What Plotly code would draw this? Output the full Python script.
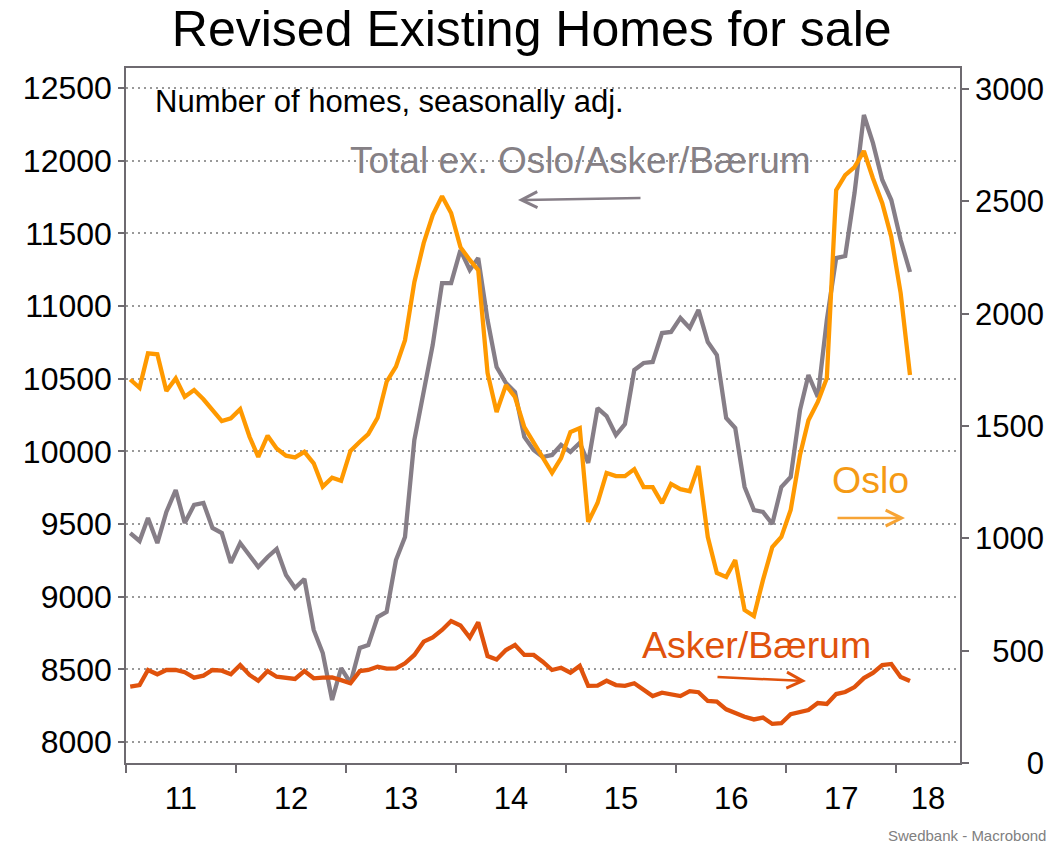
import plotly.graph_objects as go

# ---------------- data (monthly, Jan 2011 - Feb 2018) ----------------
months = [f"{2011 + i // 12}-{i % 12 + 1:02d}-15" for i in range(86)]

total_ex = [9438, 9383, 9541, 9369, 9583, 9734, 9507, 9631, 9645, 9473, 9438, 9232,
            9369, 9287, 9204, 9273, 9328, 9149, 9060, 9122, 8771, 8612, 8289, 8509,
            8406, 8647, 8667, 8860, 8895, 9252, 9411, 10078, 10422, 10732, 11158, 11158,
            11385, 11248, 11330, 10904, 10580, 10470, 10408, 10099, 10009, 9961, 9975, 10044,
            9996, 10057, 9920, 10298, 10243, 10112, 10188, 10560, 10608, 10615, 10814, 10821,
            10918, 10849, 10973, 10752, 10663, 10229, 10161, 9755, 9596, 9583, 9500, 9755,
            9823, 10284, 10525, 10374, 10904, 11330, 11344, 11778, 12314, 12122, 11867, 11729,
            11454, 11234]

oslo = [1707, 1670, 1823, 1819, 1656, 1712, 1630, 1660, 1619, 1574, 1522, 1534,
        1575, 1452, 1363, 1457, 1400, 1368, 1360, 1385, 1334, 1230, 1270, 1256,
        1389, 1430, 1464, 1537, 1697, 1764, 1882, 2140, 2314, 2439, 2523, 2448,
        2296, 2239, 2194, 1736, 1562, 1682, 1629, 1495, 1424, 1362, 1291, 1357,
        1473, 1491, 1073, 1157, 1291, 1277, 1277, 1308, 1228, 1228, 1157, 1242,
        1219, 1210, 1322, 1006, 846, 828, 903, 681, 654, 814, 961, 1006,
        1126, 1371, 1526, 1607, 1713, 2550, 2617, 2652, 2724, 2603, 2492, 2341,
        2092, 1727]

asker_baerum = [340, 347, 414, 395, 414, 414, 404, 380, 389, 414, 411, 395,
                436, 392, 366, 409, 384, 377, 374, 409, 377, 380, 381, 369,
                355, 409, 414, 429, 420, 421, 444, 481, 540, 559, 592, 632,
                612, 558, 626, 476, 461, 503, 525, 481, 481, 451, 414, 424,
                402, 432, 343, 344, 366, 347, 343, 355, 325, 298, 313, 306,
                298, 320, 315, 276, 273, 239, 221, 206, 194, 202, 174, 177,
                217, 225, 236, 267, 263, 307, 316, 338, 378, 401, 436, 441,
                383, 365]

year_ticks = [f"{y}-01-01" for y in range(2011, 2019)]
label_pos = [f"{y}-07-02" for y in range(2011, 2018)] + ["2018-04-16"]
label_text = ["11", "12", "13", "14", "15", "16", "17", "18"]

left_ticks = [8000, 8500, 9000, 9500, 10000, 10500, 11000, 11500, 12000, 12500]
left_text = [str(v) for v in left_ticks]
right_ticks = [0, 500, 1000, 1500, 2000, 2500, 3000]
right_text = ["\u2007\u2007\u20070", "\u2007500", "1000", "1500", "2000", "2500", "3000"]

# ---------------- styling ----------------
FONT = "Liberation Sans, Arial, sans-serif"
GRAY = "#867e87"
ORANGE = "#ff9900"
RED = "#e0520c"
FRAME = "#6e6a70"

fig = go.Figure()
fig.add_trace(go.Scatter(x=months, y=total_ex, mode="lines", name="Total ex. Oslo/Asker/Bærum",
                         line=dict(color=GRAY, width=4.3), yaxis="y"))
fig.add_trace(go.Scatter(x=months, y=oslo, mode="lines", name="Oslo",
                         line=dict(color=ORANGE, width=4.3), yaxis="y2"))
fig.add_trace(go.Scatter(x=months, y=asker_baerum, mode="lines", name="Asker/Bærum",
                         line=dict(color=RED, width=4.3), yaxis="y2"))

fig.update_layout(
    width=1055, height=845,
    margin=dict(l=126, r=95, t=68, b=82, autoexpand=False),
    paper_bgcolor="white", plot_bgcolor="white",
    showlegend=False,
    font=dict(family=FONT, color="black"),
    title=dict(text="Revised Existing Homes for sale", x=0.504, xanchor="center",
               y=1 - 28 / 845, yanchor="middle", yref="container",
               font=dict(size=50, family=FONT, color="black")),
    xaxis=dict(type="date", range=["2011-01-01", "2018-07-31"], automargin=False,
               tickmode="array", tickvals=label_pos, ticktext=label_text,
               ticks="outside", ticklen=7, tickcolor="rgba(0,0,0,0)",
               tickfont=dict(size=31, family=FONT, color="black"),
               showgrid=False, zeroline=False,
               showline=True, linecolor=FRAME, linewidth=1.5, mirror=True,
               minor=dict(tickmode="array", tickvals=year_ticks, ticks="outside",
                          ticklen=8, tickcolor=FRAME, tickwidth=1.5, showgrid=False)),
    yaxis=dict(range=[7855.5, 12637.6], tickmode="array", tickvals=left_ticks,
               ticktext=left_text, automargin=False,
               ticks="outside", ticklen=6, tickcolor=FRAME, tickwidth=1.5,
               tickfont=dict(size=32, family=FONT, color="black"),
               showgrid=True, gridcolor="#999999", gridwidth=1.5, griddash="1.5px,4.5px",
               zeroline=False, showline=True, linecolor=FRAME, linewidth=1.5),
    yaxis2=dict(range=[0, 3093.5], overlaying="y", side="right", automargin=False,
                tickmode="array", tickvals=right_ticks, ticktext=right_text,
                ticks="outside", ticklen=7, tickcolor=FRAME, tickwidth=1.5,
                tickfont=dict(size=31, family=FONT, color="black"),
                showgrid=False, zeroline=False,
                showline=True, linecolor=FRAME, linewidth=1.5),
)

def px_x(px):
    return (px - 126) / 834

def px_y(py):
    return (763 - py) / 695

annotations = [
    dict(text="Number of homes, seasonally adj.", x=px_x(153), y=px_y(101),
         xanchor="left", yanchor="middle", showarrow=False,
         font=dict(size=31, color="black", family=FONT)),
    dict(text="Total ex. Oslo/Asker/Bærum", x=px_x(580), y=px_y(160),
         xanchor="center", yanchor="middle", showarrow=False,
         font=dict(size=37, color="#858085", family=FONT)),
    dict(text="Oslo", x=px_x(870), y=px_y(480), xanchor="center", yanchor="middle",
         showarrow=False, font=dict(size=37.5, color="#f59a14", family=FONT)),
    dict(text="Asker/Bærum", x=px_x(756), y=px_y(645), xanchor="center", yanchor="middle",
         showarrow=False, font=dict(size=37.5, color=RED, family=FONT)),
    # arrows
    dict(text="", x=px_x(518), y=px_y(200), ax=124, ay=-2, showarrow=True,
         arrowhead=5, arrowsize=1.25, arrowwidth=2.5, arrowcolor=GRAY),
    dict(text="", x=px_x(905), y=px_y(518), ax=-69, ay=0, showarrow=True,
         arrowhead=5, arrowsize=1.25, arrowwidth=2.5, arrowcolor="#f7a435"),
    dict(text="", x=px_x(806), y=px_y(681), ax=-90, ay=-4, showarrow=True,
         arrowhead=5, arrowsize=1.25, arrowwidth=2.5, arrowcolor=RED),
    dict(text="Swedbank - Macrobond", x=px_x(1048), y=px_y(835), xanchor="right",
         yanchor="middle", showarrow=False, font=dict(size=15, color="#808080", family=FONT)),
]
for a in annotations:
    a.setdefault("xref", "paper")
    a.setdefault("yref", "paper")
fig.update_layout(annotations=annotations)

fig.write_html("out.html", config={"displayModeBar": False},
               post_script="document.body.style.margin='0';document.body.style.overflow='hidden';")
